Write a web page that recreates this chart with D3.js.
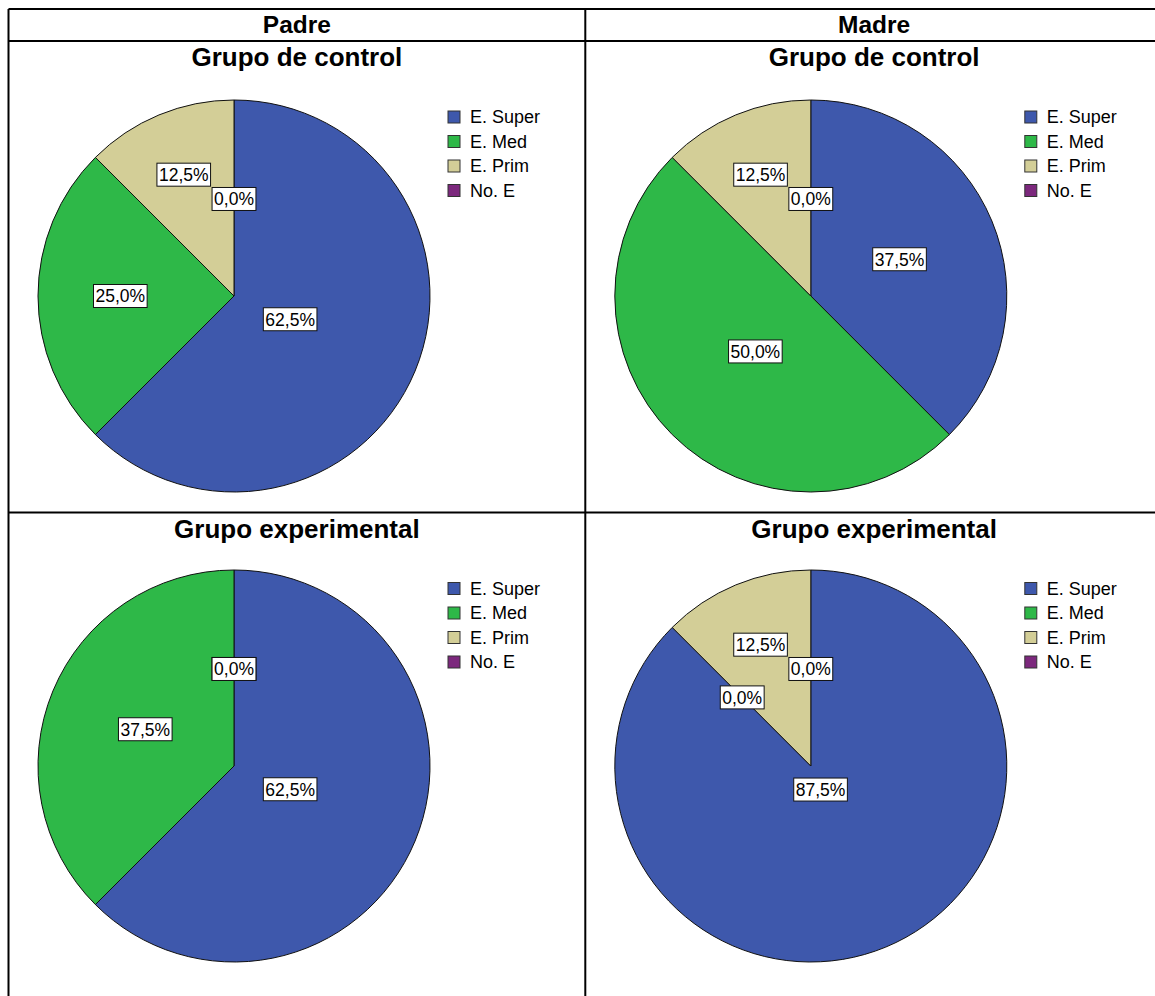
<!DOCTYPE html>
<html>
<head>
<meta charset="utf-8">
<script src="https://cdn.jsdelivr.net/npm/d3@7"></script>
<style>
  html, body { margin: 0; padding: 0; background: #fff; }
  svg { display: block; font-family: "Liberation Sans", Arial, sans-serif; }
</style>
</head>
<body>
<svg id="chart" width="1155" height="996"></svg>
<script>
// Education level of parents, percentage per group
const categories = ["E. Super", "E. Med", "E. Prim", "No. E"];
const colors = ["#3E58AC", "#2EB848", "#D3CE97", "#7C287D"];
const columnTitles = ["Padre", "Madre"];
const rowTitles = ["Grupo de control", "Grupo experimental"];
const padreControl = [62.5, 25.0, 12.5, 0.0];
const madreControl = [37.5, 50.0, 12.5, 0.0];
const padreExperimental = [62.5, 37.5, 0.0, 0.0];
const madreExperimental = [87.5, 0.0, 12.5, 0.0];

const panels = [
  { row: 0, col: 0, values: padreControl },
  { row: 0, col: 1, values: madreControl },
  { row: 1, col: 0, values: padreExperimental },
  { row: 1, col: 1, values: madreExperimental }
];

const svg = d3.select("#chart");

// Table grid
const tableLeft = 8.5, tableRight = 1163, tableTop = 9, headerBottom = 41, rowSplit = 512.5, tableBottom = 1010;
const colSplit = 585.3;
const colX = d3.scaleOrdinal().domain([0, 1]).range([tableLeft, colSplit]);
const colW = [colSplit - tableLeft, tableRight - colSplit];
const rowY = d3.scaleOrdinal().domain([0, 1]).range([headerBottom, rowSplit]);
const pieY = d3.scaleOrdinal().domain([0, 1]).range([296, 766]);

const fmt = v => d3.format(".1f")(v).replace(".", ",") + "%";
const radius = 196;
const pie = d3.pie().sort(null).value(d => d);
const arc = d3.arc().innerRadius(0).outerRadius(radius);

panels.forEach(p => {
  const x0 = colX(p.col), y0 = rowY(p.row);
  const g = svg.append("g");

  g.append("text")
    .attr("x", x0 + colW[p.col] / 2)
    .attr("y", y0 + 25)
    .attr("text-anchor", "middle")
    .attr("font-size", 26)
    .attr("font-weight", "bold")
    .text(rowTitles[p.row]);

  const cx = x0 + 225.5, cy = pieY(p.row);
  const pg = g.append("g").attr("transform", `translate(${cx},${cy})`);
  const arcs = pie(p.values);

  pg.selectAll("path.slice")
    .data(arcs.filter(a => a.value > 0))
    .join("path")
    .attr("class", "slice")
    .attr("d", arc)
    .attr("fill", d => colors[d.index])
    .attr("stroke", "#111")
    .attr("stroke-width", 1);

  // Value labels inside boxes
  arcs.forEach(a => {
    const share = a.value / 100;
    const mid = (a.startAngle + a.endAngle) / 2;
    const lr = a.value > 0 ? radius * (0.76 - 0.72 * share) : radius * 0.495;
    const lx = Math.sin(mid) * lr, ly = -Math.cos(mid) * lr;
    const lg = pg.append("g").attr("transform", `translate(${lx},${ly})`);
    const t = lg.append("text")
      .attr("text-anchor", "middle")
      .attr("dy", "0.36em")
      .attr("font-size", 17.5)
      .text(fmt(a.value));
    const bb = t.node().getBBox();
    lg.insert("rect", "text")
      .attr("x", bb.x - 2)
      .attr("y", -11.5)
      .attr("width", bb.width + 4)
      .attr("height", 23)
      .attr("fill", "#fff")
      .attr("stroke", "#111")
      .attr("stroke-width", 1);
  });

  // Legend
  const lgX = x0 + 439.5, lgY = y0 + 76;
  const leg = g.append("g").attr("transform", `translate(${lgX},${lgY})`);
  const items = leg.selectAll("g").data(categories).join("g")
    .attr("transform", (d, i) => `translate(0,${i * 24.5})`);
  items.append("rect")
    .attr("x", 0).attr("y", -6).attr("width", 12).attr("height", 12)
    .attr("fill", (d, i) => colors[i])
    .attr("stroke", "#333").attr("stroke-width", 1);
  items.append("text")
    .attr("x", 22).attr("dy", "0.36em")
    .attr("font-size", 18)
    .text(d => d);
});

// Column headers
columnTitles.forEach((t, i) => {
  svg.append("text")
    .attr("x", colX(i) + colW[i] / 2)
    .attr("y", 33)
    .attr("text-anchor", "middle")
    .attr("font-size", 24.5)
    .attr("font-weight", "bold")
    .text(t);
});

// Grid lines
const lines = [
  [tableLeft, tableTop, tableRight, tableTop],
  [tableLeft, headerBottom, tableRight, headerBottom],
  [tableLeft, rowSplit, tableRight, rowSplit],
  [tableLeft, tableTop, tableLeft, tableBottom],
  [colSplit, tableTop, colSplit, tableBottom]
];
svg.selectAll("line.grid").data(lines).join("line")
  .attr("class", "grid")
  .attr("x1", d => d[0]).attr("y1", d => d[1])
  .attr("x2", d => d[2]).attr("y2", d => d[3])
  .attr("stroke", "#000").attr("stroke-width", 2);
</script>
</body>
</html>
